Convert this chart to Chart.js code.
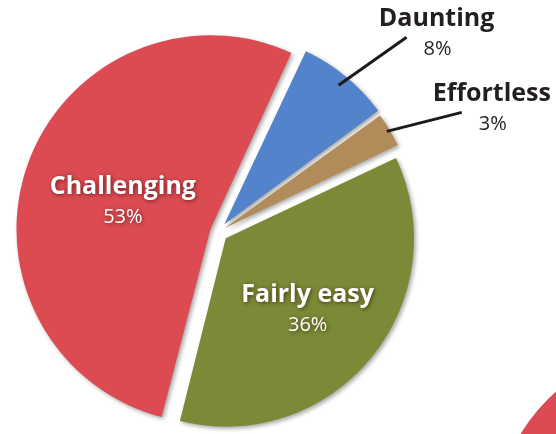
<!DOCTYPE html>
<html>
<head>
<meta charset="utf-8">
<script src="https://cdn.jsdelivr.net/npm/chart.js@4/dist/chart.umd.min.js"></script>
<style>
    html, body { margin: 0; padding: 0; width: 556px; height: 434px; overflow: hidden; background: #fff; }
    #pieChart { position: absolute; left: 0; top: 0; }
    #cornerChart { position: absolute; left: 490px; top: 340px; }
</style>
</head>
<body>
<canvas id="pieChart" width="556" height="480"></canvas>
<canvas id="cornerChart" width="400" height="400"></canvas>
<script>
//Survey answers, listed clockwise from the top of the pie
var answerLabels = ["Daunting", "Effortless", "Fairly easy", "Challenging"];
var answerShares = [8, 3, 36, 53];
var sliceColors = ["#5283cb", "#b18b59", "#7b8a36", "#dc4b52"];

//Next pie, only its edge shows in the corner
var cornerShares = [100];
var cornerColors = ["#dc4b52"];

//Leader line for the small slices: [start radius change, dx, dy]; null = label inside
var leaderLines = [[-6, 68, -48], [3, 75, -19], null, null];
//How far out the inside labels sit, as part of the radius
var labelDepth = [0, 0, 0.57, 0.5];

//Soft drop shadow under the slices
var sliceShadow = {
    id: "sliceShadow",
    beforeDatasetsDraw: function (chart) {
        var ctx = chart.ctx;
        ctx.save();
        ctx.shadowColor = "rgba(0,0,0,0.35)";
        ctx.shadowBlur = 4;
        ctx.shadowOffsetX = 2;
        ctx.shadowOffsetY = 2;
    },
    afterDatasetsDraw: function (chart) {
        chart.ctx.restore();
    }
};

//Names and percentages, inside big slices and on leader lines for small ones
var sliceLabels = {
    id: "sliceLabels",
    afterDatasetsDraw: function (chart) {
        var ctx = chart.ctx;
        var arcs = chart.getDatasetMeta(0).data;
        arcs.forEach(function (arc, i) {
            var mid = (arc.startAngle + arc.endAngle) / 2;
            var shift = (arc.options.offset || 0) / 4;
            var cx = arc.x + Math.cos(mid) * shift;
            var cy = arc.y + Math.sin(mid) * shift;
            var name = answerLabels[i];
            var pct = answerShares[i] + "%";
            var lead = leaderLines[i];
            ctx.save();
            ctx.textAlign = "center";
            ctx.textBaseline = "alphabetic";
            if (lead) {
                var r = arc.outerRadius + lead[0];
                var x0 = cx + Math.cos(mid) * r;
                var y0 = cy + Math.sin(mid) * r;
                var x1 = x0 + lead[1];
                var y1 = y0 + lead[2];
                ctx.strokeStyle = "#1c1a1b";
                ctx.lineWidth = 3;
                ctx.beginPath();
                ctx.moveTo(x0, y0);
                ctx.lineTo(x1, y1);
                ctx.stroke();
                ctx.fillStyle = "#231f20";
                ctx.font = "bold 25px 'Open Sans'";
                ctx.fillText(name, x1 + 30, y1 - 11);
                ctx.font = "20px 'Open Sans'";
                ctx.fillText(pct, x1 + 31, y1 + 17.5);
            } else {
                var d = arc.outerRadius * labelDepth[i];
                var x = cx + Math.cos(mid) * d;
                var y = cy + Math.sin(mid) * d;
                ctx.shadowColor = "rgba(40,0,0,0.6)";
                ctx.shadowBlur = 4;
                ctx.shadowOffsetX = 1;
                ctx.shadowOffsetY = 1;
                ctx.fillStyle = "#ffffff";
                ctx.font = "bold 25px 'Open Sans'";
                ctx.fillText(name, x, y - 4);
                ctx.font = "20px 'Open Sans'";
                ctx.fillText(pct, x, y + 25);
            }
            ctx.restore();
        });
    }
};

var pieChart = new Chart("pieChart", {
    type: "pie",
    data: {
        labels: answerLabels,
        datasets: [{
            data: answerShares,
            backgroundColor: sliceColors,
            borderWidth: 0,
            offset: [40, 30, 40, 32],
            radius: 186
        }]
    },
    options: {
        responsive: false,
        animation: false,
        rotation: 25,
        layout: { padding: { left: 0, top: 0, right: 120, bottom: 16 } },
        plugins: {
            legend: { display: false },
            tooltip: { enabled: false }
        }
    },
    plugins: [sliceShadow, sliceLabels]
});

var cornerChart = new Chart("cornerChart", {
    type: "pie",
    data: {
        labels: [""],
        datasets: [{
            data: cornerShares,
            backgroundColor: cornerColors,
            borderWidth: 0,
            radius: 200
        }]
    },
    options: {
        responsive: false,
        animation: false,
        plugins: {
            legend: { display: false },
            tooltip: { enabled: false }
        }
    }
});
</script>
</body>
</html>
